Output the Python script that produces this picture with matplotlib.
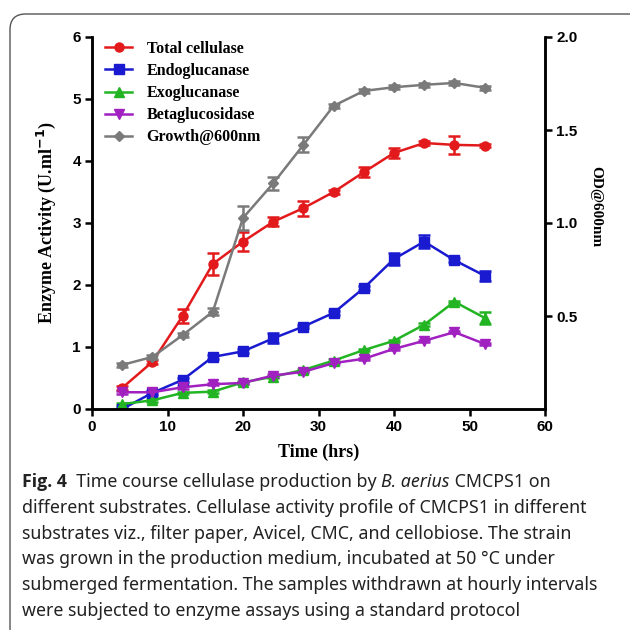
import matplotlib
matplotlib.use("Agg")
import matplotlib.pyplot as plt
from matplotlib.patches import FancyBboxPatch
from matplotlib.lines import Line2D

# ---------------- data ----------------
time_hrs = [4, 8, 12, 16, 20, 24, 28, 32, 36, 40, 44, 48, 52]
total_cellulase = [0.34, 0.76, 1.50, 2.34, 2.70, 3.02, 3.24, 3.50, 3.82, 4.13, 4.29, 4.26, 4.25]
total_err = [0.03, 0.03, 0.12, 0.18, 0.15, 0.07, 0.12, 0.03, 0.08, 0.08, 0.03, 0.14, 0.03]
endoglucanase = [0.00, 0.26, 0.47, 0.84, 0.93, 1.14, 1.33, 1.55, 1.95, 2.42, 2.70, 2.40, 2.15]
endo_err = [0.03, 0.03, 0.03, 0.03, 0.03, 0.08, 0.03, 0.03, 0.03, 0.10, 0.10, 0.03, 0.08]
exoglucanase = [0.08, 0.14, 0.26, 0.28, 0.43, 0.52, 0.63, 0.78, 0.95, 1.10, 1.36, 1.73, 1.47]
exo_err = [0.02, 0.02, 0.02, 0.02, 0.02, 0.02, 0.02, 0.02, 0.02, 0.02, 0.02, 0.02, 0.10]
betaglucosidase = [0.27, 0.27, 0.35, 0.40, 0.42, 0.54, 0.60, 0.74, 0.81, 0.97, 1.10, 1.24, 1.05]
beta_err = [0.02] * 13
growth_od = [0.237, 0.280, 0.397, 0.523, 1.027, 1.213, 1.420, 1.630, 1.710, 1.730, 1.743, 1.753, 1.727]
growth_err = [0.01, 0.01, 0.01, 0.02, 0.067, 0.033, 0.04, 0.01, 0.01, 0.01, 0.01, 0.01, 0.01]

series_names = ["Total cellulase", "Endoglucanase", "Exoglucanase", "Betaglucosidase", "Growth@600nm"]
x_ticks = [0, 10, 20, 30, 40, 50, 60]
y_left_ticks = [0, 1, 2, 3, 4, 5, 6]
y_right_ticks = [0.5, 1.0, 1.5, 2.0]

caption_lines = [
    [("Fig. 4", "bold", "normal"), ("  Time course cellulase production by ", "normal", "normal"),
     ("B. aerius", "normal", "italic"), (" CMCPS1 on", "normal", "normal")],
    [("different substrates. Cellulase activity profile of CMCPS1 in different", "normal", "normal")],
    [("substrates viz., filter paper, Avicel, CMC, and cellobiose. The strain", "normal", "normal")],
    [("was grown in the production medium, incubated at 50 \u00b0C under", "normal", "normal")],
    [("submerged fermentation. The samples withdrawn at hourly intervals", "normal", "normal")],
    [("were subjected to enzyme assays using a standard protocol", "normal", "normal")],
]

# ---------------- figure ----------------
W = H = 630
fig = plt.figure(figsize=(6.3, 6.3), dpi=100)

# rounded frame
frame = FancyBboxPatch((10 / W, -0.1), 1.2, (1 - 14 / H) + 0.1,
                       boxstyle="round,pad=0,rounding_size=0.025",
                       transform=fig.transFigure, fill=False,
                       edgecolor="#555555", linewidth=1.0)
fig.add_artist(frame)

ax = fig.add_axes([92 / W, 1 - 409 / H, (545 - 92) / W, (409 - 37) / H])
ax2 = ax.twinx()

tick_font = dict(family="Liberation Sans", weight="bold", size=11)
label_font = dict(family="Liberation Serif", weight="bold", size=13)

colors = ["#e31a1c", "#1a1ad0", "#22b422", "#a020c0", "#7a7a7a"]
markers = ["o", "s", "^", "v", "D"]
msizes = [6.5, 6.5, 6.5, 6.5, 5]
left_series = [(total_cellulase, total_err), (endoglucanase, endo_err),
               (exoglucanase, exo_err), (betaglucosidase, beta_err)]

for i, (vals, err) in enumerate(left_series):
    ax.errorbar(time_hrs, vals, yerr=err, color=colors[i], marker=markers[i],
                markersize=msizes[i], linewidth=1.8, elinewidth=1.8,
                capsize=4, capthick=1.8)
ax2.errorbar(time_hrs, growth_od, yerr=growth_err, color=colors[4], marker=markers[4],
             markersize=msizes[4], linewidth=1.8, elinewidth=1.8, capsize=4, capthick=1.8)

ax.set_xlim(0, 60)
ax.set_ylim(0, 6)
ax2.set_ylim(0, 2)
ax.set_xticks(x_ticks)
ax.set_yticks(y_left_ticks)
ax2.set_yticks(y_right_ticks)
ax.set_xticklabels([str(t) for t in x_ticks], fontdict=tick_font)
ax.set_yticklabels([str(t) for t in y_left_ticks], fontdict=tick_font)
ax2.set_yticklabels(["%.1f" % t for t in y_right_ticks], fontdict=tick_font)

for a in (ax, ax2):
    a.spines["top"].set_visible(False)
    for s in ("left", "right", "bottom"):
        a.spines[s].set_linewidth(1.8)
    a.tick_params(direction="out", width=1.8, length=5, pad=3)

ax.set_xlabel("Time (hrs)", fontdict=label_font, labelpad=7)
ax.set_ylabel("Enzyme Activity (U.ml$^{\\mathbf{-1}}$)", fontdict=label_font, labelpad=10)
ax2.set_ylabel("OD@600nm", fontdict=dict(family="Liberation Serif", weight="bold", size=11),
               rotation=270)
ax2.yaxis.set_label_coords((602 - 92) / 453, (409 - 207) / 372)

handles = [Line2D([], [], color=colors[i], marker=markers[i], markersize=msizes[i],
                  linewidth=1.8) for i in range(5)]
leg = ax2.legend(handles, series_names, loc="upper left",
                 bbox_to_anchor=((105 - 92) / 453, (409 - 41) / 372),
                 borderaxespad=0, borderpad=0,
                 frameon=False, handlelength=1.7, handletextpad=0.9, labelspacing=0.38,
                 prop=dict(family="Liberation Serif", weight="bold", size=11.5))

# ---------------- caption ----------------
fig.canvas.draw()
renderer = fig.canvas.get_renderer()
cap_size = 12.8
y0 = 482
dy = 25.8
for li, pieces in enumerate(caption_lines):
    x = 22
    y = y0 + li * dy
    for txt, wt, st in pieces:
        fam = "Open Sans" if wt == "bold" else "Noto Sans"
        t = fig.text(x / W, 1 - y / H, txt, family=fam, weight=wt, style=st,
                     size=cap_size, color="#222222", va="center", ha="left")
        bb = t.get_window_extent(renderer)
        x += bb.width

fig.savefig("out.png", dpi=100)
